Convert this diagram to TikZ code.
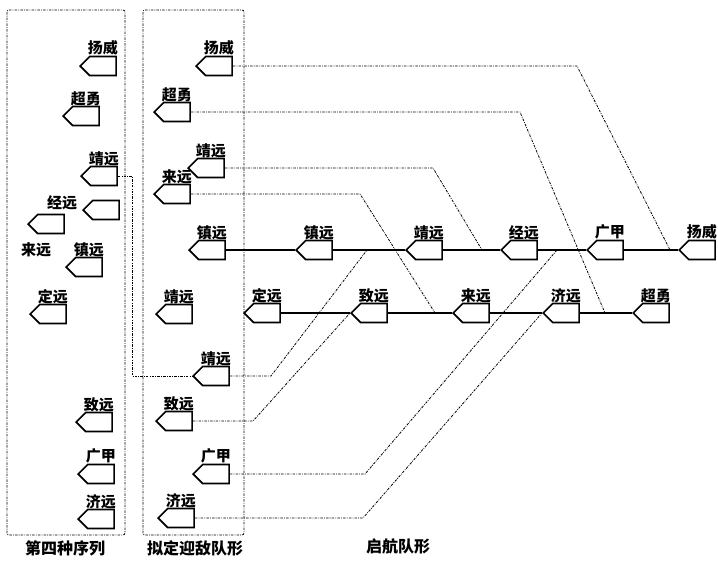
\documentclass[tikz,border=0pt]{standalone}
\usepackage{fontspec}
\newfontfamily\cjk{Noto Sans CJK SC}
\usetikzlibrary{shapes.symbols}
\tikzset{
  ship/.style={signal, signal to=west, signal pointer angle=90, draw,
    line width=1.6pt, fill=white, anchor=west, inner sep=0pt,
    minimum width=36pt, minimum height=19pt, label distance=1.5pt},
  shiplab/.style={font=\cjk\bfseries\fontsize{15pt}{15pt}\selectfont, inner sep=0pt},
  caption/.style={font=\cjk\bfseries\fontsize{16pt}{16pt}\selectfont, inner sep=0pt},
  course/.style={line width=1.5pt},
  route/.style={line width=0.8pt, dash pattern=on 2.5pt off 1.2pt on 0.8pt off 1.2pt},
  frame/.style={line width=0.8pt, dash pattern=on 2.5pt off 1.2pt on 0.8pt off 1.2pt,
    rounded corners=2pt}
}
\newcommand{\ship}[3]{% ship symbol pointing west, tip at (#2)
  \node[ship, label={[shiplab]above:#3}] (#1) at (#2) {};
}
\newcommand{\bareship}[2]{% ship symbol whose name stands elsewhere
  \node[ship] (#1) at (#2) {};
}

\begin{document}
\begin{tikzpicture}[x=1pt,y=-1pt]
  \useasboundingbox (0,0) rectangle (718,560);
  % the two columns
  \draw[frame] (7,10) rectangle (125,535);
  \draw[frame] (143,10) rectangle (244,535);
  \node[caption] (cap1) at (65,548) {第四种序列};
  \node[caption] (cap2) at (195,548) {拟定迎敌队形};
  \node[caption] (cap3) at (398,546) {启航队形};
  % fourth order
  \ship{s-yw}{79,66}{扬威}
  \ship{s-cy}{62,116}{超勇}
  \ship{s-jny}{80,176}{靖远}
  \bareship{s-jgy}{82,210}
  \node[shiplab] (l-jgy) at (62,203) {经远};
  \bareship{s-ly}{27,224}
  \node[shiplab] (l-ly) at (36,250) {来远};
  \ship{s-zy}{65,267}{镇远}
  \ship{s-dy}{29,314}{定远}
  \ship{s-zhy}{75,422}{致远}
  \ship{s-gj}{77,474}{广甲}
  \ship{s-jy}{77,519}{济远}
  % planned line
  \ship{y-yw}{195,66}{扬威}
  \ship{y-cy}{153,112}{超勇}
  \ship{y-jny}{187,168}{靖远}
  \ship{y-ly}{153,194}{来远}
  \ship{y-zy}{188,250}{镇远}
  \ship{y-jny1}{155,314}{靖远}
  \ship{y-jny2}{192,376}{靖远}
  \ship{y-zhy}{155,421}{致远}
  \ship{y-gj}{192,474}{广甲}
  \ship{y-jy}{157,518}{济远}
  % sailing order, two rows
  \ship{q-zy}{295,250}{镇远}
  \ship{q-jny}{405,250}{靖远}
  \ship{q-jgy}{500,250}{经远}
  \ship{q-gj}{586,250}{广甲}
  \ship{q-yw}{678,250}{扬威}
  \ship{q-dy}{243,313}{定远}
  \ship{q-zhy}{350,313}{致远}
  \ship{q-ly}{452,313}{来远}
  \ship{q-jy}{542,313}{济远}
  \ship{q-cy}{632,313}{超勇}
  \draw[course] (y-zy.east) -- (q-zy.west) (q-zy.east) -- (q-jny.west)
    (q-jny.east) -- (q-jgy.west) (q-jgy.east) -- (q-gj.west)
    (q-gj.east) -- (q-yw.west);
  \draw[course] (q-dy.east) -- (q-zhy.west) (q-zhy.east) -- (q-ly.west)
    (q-ly.east) -- (q-jy.west) (q-jy.east) -- (q-cy.west);
  % tracks from the planned line into the rows
  \coordinate (e-yw) at (670,250);
  \coordinate (e-cy) at (605,313);
  \coordinate (e-jny) at (482,250);
  \coordinate (e-ly) at (435,313);
  \coordinate (e-jny2) at (367,250);
  \coordinate (e-gj) at (557,250);
  \draw[route] (y-yw.east) -- (577,66) -- (e-yw);
  \draw[route] (y-cy.east) -- (520,112) -- (e-cy);
  \draw[route] (y-jny.east) -- (433,168) -- (e-jny);
  \draw[route] (y-ly.east) -- (360,194) -- (e-ly);
  \draw[route] (s-jny.east) -- ++(14,0) |- (y-jny2.west);
  \draw[route] (y-jny2.east) -- (271,376) -- (e-jny2);
  \draw[route] (y-zhy.east) -- (253,421) -- (q-zhy.west);
  \draw[route] (y-gj.east) -- (365,474) -- (e-gj);
  \draw[route] (y-jy.east) -- (363,518) -- (q-jy.west);
\end{tikzpicture}
\end{document}
